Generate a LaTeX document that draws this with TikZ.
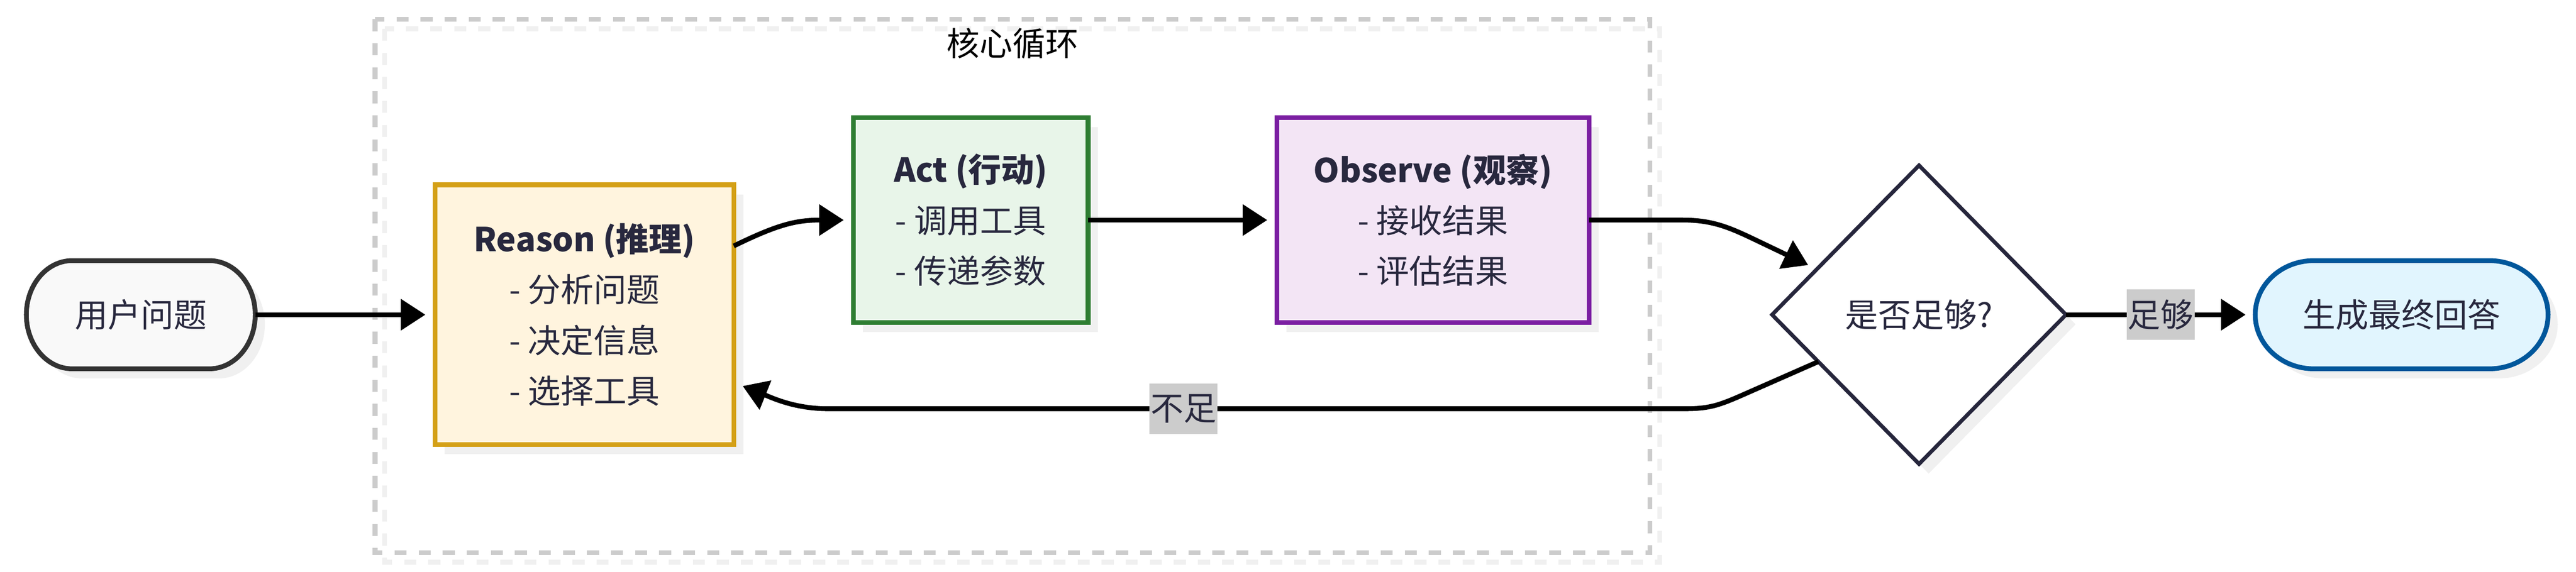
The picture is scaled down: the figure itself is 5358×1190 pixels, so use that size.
\documentclass[tikz,border=0pt]{standalone}
\usepackage{fontspec}
\setmainfont{Noto Sans CJK SC}
\usetikzlibrary{positioning,shapes.geometric,arrows.meta,shadows,backgrounds}

\definecolor{textc}{HTML}{28283E}
\definecolor{shadowc}{HTML}{F0F0F0}
\definecolor{framec}{HTML}{CCCCCC}
\definecolor{lblc}{HTML}{CCCCCC}
\definecolor{startfill}{HTML}{F9F9F9}
\definecolor{startline}{HTML}{333333}
\definecolor{reasonfill}{HTML}{FFF4DE}
\definecolor{reasonline}{HTML}{D4A017}
\definecolor{actfill}{HTML}{E8F5E9}
\definecolor{actline}{HTML}{2E7D32}
\definecolor{obsfill}{HTML}{F3E5F5}
\definecolor{obsline}{HTML}{7B1FA2}
\definecolor{endfill}{HTML}{E1F5FE}
\definecolor{endline}{HTML}{01579B}
\definecolor{decline}{HTML}{26263C}

\tikzset{
  txt/.style={text=textc, font=\fontsize{19.5pt}{30pt}\selectfont, align=center},
  box/.style={txt, rectangle, line width=0.1cm, inner sep=0pt, outer sep=0pt,
    drop shadow={shadow xshift=0.2cm, shadow yshift=-0.2cm, fill=shadowc, opacity=1}},
  term/.style={txt, rectangle, inner sep=0pt, outer sep=0pt, minimum height=2.25cm},
  dec/.style={txt, diamond, draw=decline, fill=white, line width=0.08cm,
    inner sep=0pt, outer sep=0pt, minimum width=6.11cm, minimum height=6.21cm,
    drop shadow={shadow xshift=0.2cm, shadow yshift=-0.2cm, fill=shadowc, opacity=1}},
  flow/.style={line width=0.1cm, -{Triangle[length=14.5pt,width=18pt]}, shorten >=0.2cm},
  lbl/.style={txt, fill=lblc, inner sep=0.02cm, minimum height=1.05cm},
  loopline/.style={line width=0.1cm, dash pattern=on 0.25cm off 0.25cm},
}

\begin{document}
\begin{tikzpicture}[x=0.01cm, y=-0.01cm]
  \useasboundingbox (0,0) rectangle (5358,1190);

  % nodes
  \node[term, minimum width=4.76cm] (start) at (293,655) {用户问题};
  \node[box, draw=reasonline, fill=reasonfill, minimum width=6.21cm, minimum height=5.4cm]
    (reason) at (1215.5,655) {\textbf{Reason (推理)}\\- 分析问题\\- 决定信息\\- 选择工具};
  \node[box, draw=actline, fill=actfill, minimum width=4.88cm, minimum height=4.26cm]
    (act) at (2019,458) {\textbf{Act (行动)}\\- 调用工具\\- 传递参数};
  \node[box, draw=obsline, fill=obsfill, minimum width=6.49cm, minimum height=4.26cm]
    (obs) at (2980.5,458) {\textbf{Observe (观察)}\\- 接收结果\\- 评估结果};
  \node[dec] (dec) at (3991.5,655) {是否足够?};
  \node[term, minimum width=6.09cm] (endn) at (4995.5,655) {生成最终回答};
  \node[txt, text=black] (looptitle) at (2106,90) {核心循环};

  % frame and terminators
  \begin{scope}[on background layer]
    \draw[loopline, draw=shadowc] (800,60) rectangle (3452,1170);
    \draw[loopline, draw=framec] (780,40) rectangle (3432,1150);

    \fill[shadowc, transform canvas={xshift=0.2cm, yshift=-0.2cm}] (start.north west) ++(95.2,0) -- ++(285.6,0)
      arc[start angle=90, end angle=-90, x radius=0.952cm, y radius=1.125cm] -- ++(-285.6,0)
      arc[start angle=270, end angle=90, x radius=0.952cm, y radius=1.125cm] -- cycle;
    \filldraw[fill=startfill, draw=startline, line width=0.1cm] (start.north west) ++(95.2,0) -- ++(285.6,0)
      arc[start angle=90, end angle=-90, x radius=0.952cm, y radius=1.125cm] -- ++(-285.6,0)
      arc[start angle=270, end angle=90, x radius=0.952cm, y radius=1.125cm] -- cycle;

    \fill[shadowc, transform canvas={xshift=0.2cm, yshift=-0.2cm}] (endn.north west) ++(121.8,0) -- ++(365.4,0)
      arc[start angle=90, end angle=-90, x radius=1.218cm, y radius=1.125cm] -- ++(-365.4,0)
      arc[start angle=270, end angle=90, x radius=1.218cm, y radius=1.125cm] -- cycle;
    \filldraw[fill=endfill, draw=endline, line width=0.1cm] (endn.north west) ++(121.8,0) -- ++(365.4,0)
      arc[start angle=90, end angle=-90, x radius=1.218cm, y radius=1.125cm] -- ++(-365.4,0)
      arc[start angle=270, end angle=90, x radius=1.218cm, y radius=1.125cm] -- cycle;
  \end{scope}

  % edges
  \draw[flow] (start.east) -- (reason.west);
  \draw[flow] ([yshift=1.43cm]reason.east) .. controls +(90,-44) and +(-120,0) .. (act.west);
  \draw[flow] (act.east) -- (obs.west);
  \draw[flow] (obs.east) -- ++(195,0) .. controls +(60,0) and +(-45,-21) .. ++(140,36) -- (dec.156);
  \draw[flow] (dec.205) -- ++(-159,70) .. controls +(-50,22) and +(50,0) .. ++(-120,28)
    -- node[lbl, pos=0.585] {不足} ++(-1780,0)
    .. controls +(-70,0) and +(80,32) .. ([yshift=-1.41cm]reason.east);
  \draw[flow] (dec.east) -- node[lbl] {足够} (endn.west);
\end{tikzpicture}
\end{document}
